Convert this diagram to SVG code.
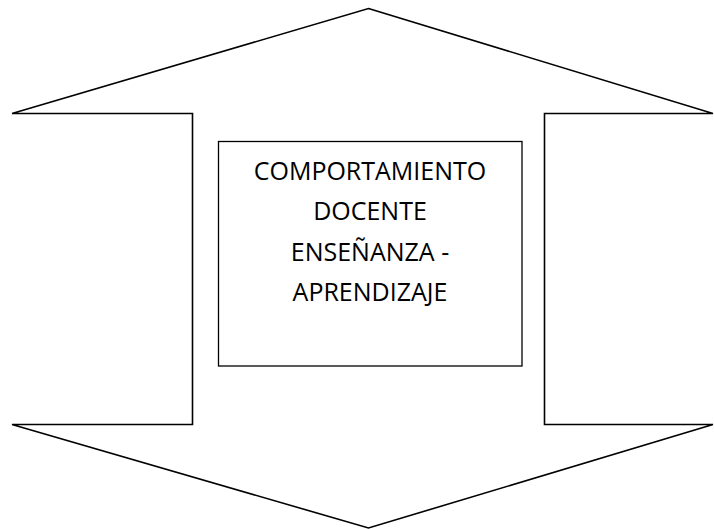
<svg xmlns="http://www.w3.org/2000/svg" width="714" height="529" viewBox="0 0 714 529">
<style>
.shape{fill:#ffffff;stroke:#000000;stroke-width:1.6;stroke-linejoin:miter}
.box{fill:#ffffff;stroke:#000000;stroke-width:1.3}
.lbl{font-family:"Open Sans","Liberation Sans",sans-serif;font-size:25px;fill:#000000;text-anchor:middle}
</style>
<rect width="714" height="529" fill="#ffffff"/>
<g id="double-arrow">
<polygon class="shape" points="368.5,8.5 713,113.5 544.5,113.5 544.5,424.5 713,424.5 368.5,528 12,424.5 192.5,424.5 192.5,113.5 12,113.5"/>
</g>
<g id="connectors"></g>
<g id="center-box">
<rect class="box" x="218.5" y="141.5" width="303.5" height="224.5"/>
<text class="lbl" x="370" y="179.5">COMPORTAMIENTO</text>
<text class="lbl" x="370" y="220">DOCENTE</text>
<text class="lbl" x="370" y="260.5">ENSEÑANZA -</text>
<text class="lbl" x="370" y="301">APRENDIZAJE</text>
</g>
</svg>
